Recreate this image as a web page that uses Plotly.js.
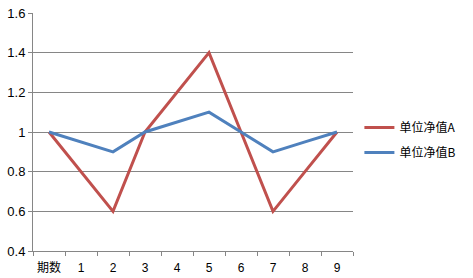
<!DOCTYPE html>
<html>
<head>
<meta charset="utf-8">
<script src="https://cdn.plot.ly/plotly-3.0.1.min.js"></script>
<style>html,body{margin:0;padding:0;background:#fff;}#chart{width:473px;height:278px;}</style>
</head>
<body>
<div id="chart"></div>
<script>
var categories = ["期数", "1", "2", "3", "4", "5", "6", "7", "8", "9"];
var seriesA = [1, 0.8, 0.6, 1.0, 1.2, 1.4, 1.0, 0.6, 0.8, 1.0];
var seriesB = [1, 0.95, 0.9, 1.0, 1.05, 1.1, 1.0, 0.9, 0.95, 1.0];
var nameA = "单位净值A";
var nameB = "单位净值B";
var yTicks = [0.4, 0.6, 0.8, 1, 1.2, 1.4, 1.6];
var yTickText = ["0.4", "0.6", "0.8", "1", "1.2", "1.4", "1.6"];

var font = "Liberation Sans, Noto Sans CJK SC, sans-serif";
var traces = [
  {x: categories, y: seriesA, name: nameA, legendgroup: "a", type: "scatter", mode: "lines",
   line: {color: "#C0504D", width: 3}},
  {x: categories, y: seriesB, name: nameB, legendgroup: "b", type: "scatter", mode: "lines",
   line: {color: "#4F81BD", width: 3}}
];
var layout = {
  width: 473, height: 278,
  margin: {l: 33, r: 120, t: 13, b: 27},
  paper_bgcolor: "#fff", plot_bgcolor: "#fff",
  font: {family: font, size: 12, color: "#000"},
  showlegend: true,
  legend: {x: 1.02, xanchor: "left", y: 0.58, yanchor: "top",
           traceorder: "grouped", tracegroupgap: 6,
           font: {family: "Noto Sans CJK SC, sans-serif", size: 12, color: "#000"},
           bgcolor: "rgba(0,0,0,0)"},
  xaxis: {type: "category", range: [-0.5, 9.5], tickson: "boundaries",
          ticks: "outside", ticklen: 4, tickcolor: "#868686", tickangle: 0,
          ticklabelstandoff: 6,
          showline: true, linecolor: "#868686", linewidth: 1,
          showgrid: false, zeroline: false, fixedrange: true,
          tickfont: {family: "Liberation Sans, Noto Sans CJK SC, sans-serif", size: 12}},
  yaxis: {range: [0.4, 1.6], tickmode: "array", tickvals: yTicks, ticktext: yTickText,
          ticks: "outside", ticklen: 4, tickcolor: "#868686",
          showline: true, linecolor: "#868686", linewidth: 1,
          showgrid: true, gridcolor: "#868686", gridwidth: 1,
          zeroline: false, fixedrange: true,
          tickfont: {family: "Liberation Sans, sans-serif", size: 13}}
};
Plotly.newPlot("chart", traces, layout, {displayModeBar: false, staticPlot: true});
</script>
</body>
</html>
